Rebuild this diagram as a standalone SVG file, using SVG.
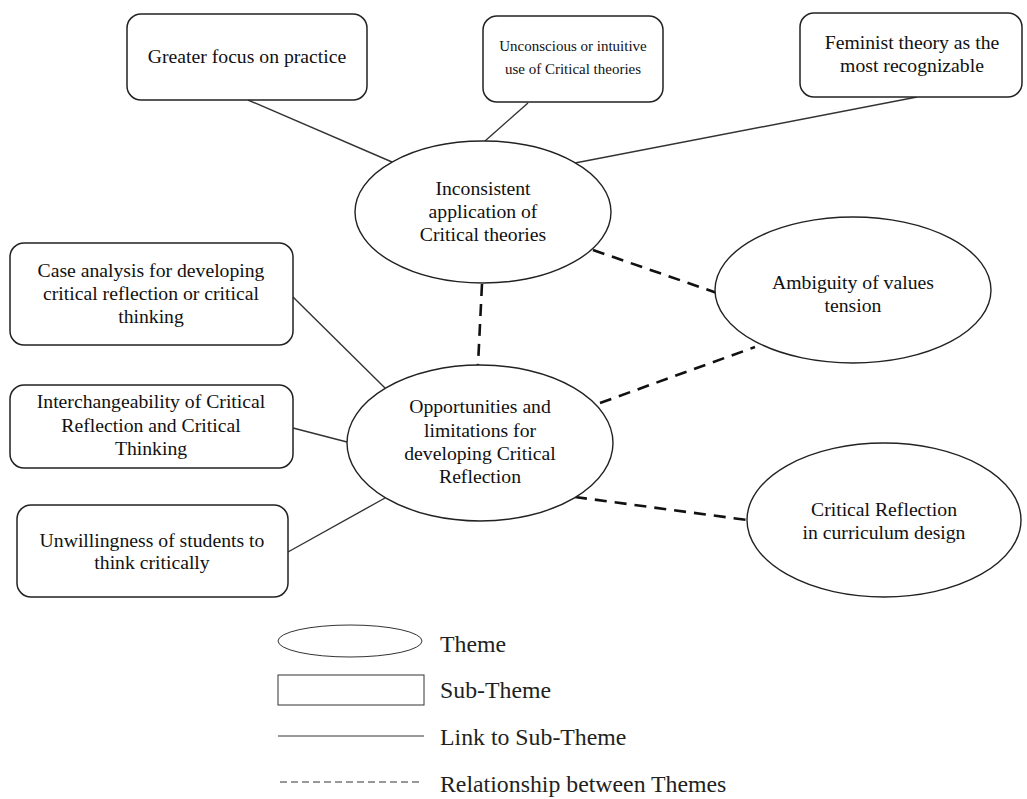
<svg xmlns="http://www.w3.org/2000/svg" width="1027" height="799" viewBox="0 0 1027 799">
<style>
.box{fill:#fff;stroke:#222;stroke-width:1.5}
.ell{fill:#fff;stroke:#222;stroke-width:1.4}
.t{font-family:"Liberation Serif","Times New Roman",serif;font-size:19.7px;fill:#111;text-anchor:middle}
.ts{font-size:15px}
.lt{font-family:"Liberation Serif","Times New Roman",serif;font-size:23.8px;fill:#231f20}
.solid{stroke:#333;stroke-width:1.4;fill:none}
.dash{stroke:#111;stroke-width:2.6;stroke-dasharray:12 8;fill:none}
</style>
<rect width="1027" height="799" fill="#fff"/>
<g id="connectors">
<line class="solid" x1="248" y1="100" x2="392" y2="162"/>
<line class="solid" x1="528" y1="103" x2="485" y2="141"/>
<line class="solid" x1="917" y1="97" x2="575" y2="163"/>
<line class="solid" x1="293" y1="297" x2="385" y2="388"/>
<line class="solid" x1="293" y1="428" x2="347" y2="442"/>
<line class="solid" x1="288" y1="552" x2="385" y2="498"/>
<line class="dash" x1="482" y1="284" x2="478" y2="365"/>
<line class="dash" x1="593" y1="250" x2="717" y2="293"/>
<line class="dash" x1="600" y1="403" x2="755" y2="347"/>
<line class="dash" x1="575" y1="497" x2="747" y2="520"/>
</g>
<g id="n-greater">
<rect class="box" x="127" y="14" width="240" height="86" rx="14"/>
<text class="t" x="247" y="63">Greater focus on practice</text>
</g>
<g id="n-unconscious">
<rect class="box" x="483" y="16" width="180" height="86" rx="14"/>
<text class="t ts" x="573" y="51">Unconscious or intuitive</text>
<text class="t ts" x="573" y="74">use of Critical theories</text>
</g>
<g id="n-feminist">
<rect class="box" x="800" y="13" width="222" height="84" rx="14"/>
<text class="t" x="912" y="49">Feminist theory as the</text>
<text class="t" x="912" y="72">most recognizable</text>
</g>
<g id="n-inconsistent">
<ellipse class="ell" cx="483" cy="212" rx="128" ry="71"/>
<text class="t" x="483" y="195">Inconsistent</text>
<text class="t" x="483" y="218">application of</text>
<text class="t" x="483" y="241">Critical theories</text>
</g>
<g id="n-case">
<rect class="box" x="10" y="243" width="283" height="102" rx="14"/>
<text class="t" x="151" y="277">Case analysis for developing</text>
<text class="t" x="151" y="300">critical reflection or critical</text>
<text class="t" x="151" y="323">thinking</text>
</g>
<g id="n-inter">
<rect class="box" x="10" y="385" width="283" height="83" rx="14"/>
<text class="t" x="151" y="408">Interchangeability of Critical</text>
<text class="t" x="151" y="432">Reflection and Critical</text>
<text class="t" x="151" y="455">Thinking</text>
</g>
<g id="n-unwilling">
<rect class="box" x="17" y="505" width="271" height="92" rx="14"/>
<text class="t" x="152" y="547">Unwillingness of students to</text>
<text class="t" x="152" y="569">think critically</text>
</g>
<g id="n-opportunities">
<ellipse class="ell" cx="480" cy="443" rx="133" ry="78"/>
<text class="t" x="480" y="413">Opportunities and</text>
<text class="t" x="480" y="437">limitations for</text>
<text class="t" x="480" y="460">developing Critical</text>
<text class="t" x="480" y="483">Reflection</text>
</g>
<g id="n-ambiguity">
<ellipse class="ell" cx="853" cy="290" rx="138" ry="73"/>
<text class="t" x="853" y="289">Ambiguity of values</text>
<text class="t" x="853" y="312">tension</text>
</g>
<g id="n-curriculum">
<ellipse class="ell" cx="884" cy="520" rx="137" ry="77"/>
<text class="t" x="884" y="516">Critical Reflection</text>
<text class="t" x="884" y="539">in curriculum design</text>
</g>
<g id="legend">
<ellipse cx="350" cy="641" rx="72" ry="16" fill="#fff" stroke="#333" stroke-width="1"/>
<text class="lt" x="440" y="652">Theme</text>
<rect x="278" y="675" width="146" height="30" fill="#fff" stroke="#333" stroke-width="1"/>
<text class="lt" x="440" y="698">Sub-Theme</text>
<line x1="278" y1="736" x2="424" y2="736" stroke="#333" stroke-width="1"/>
<text class="lt" x="440" y="745">Link to Sub-Theme</text>
<line x1="280" y1="782" x2="422" y2="782" stroke="#333" stroke-width="1" stroke-dasharray="7 4"/>
<text class="lt" x="440" y="792">Relationship between Themes</text>
</g>
</svg>
